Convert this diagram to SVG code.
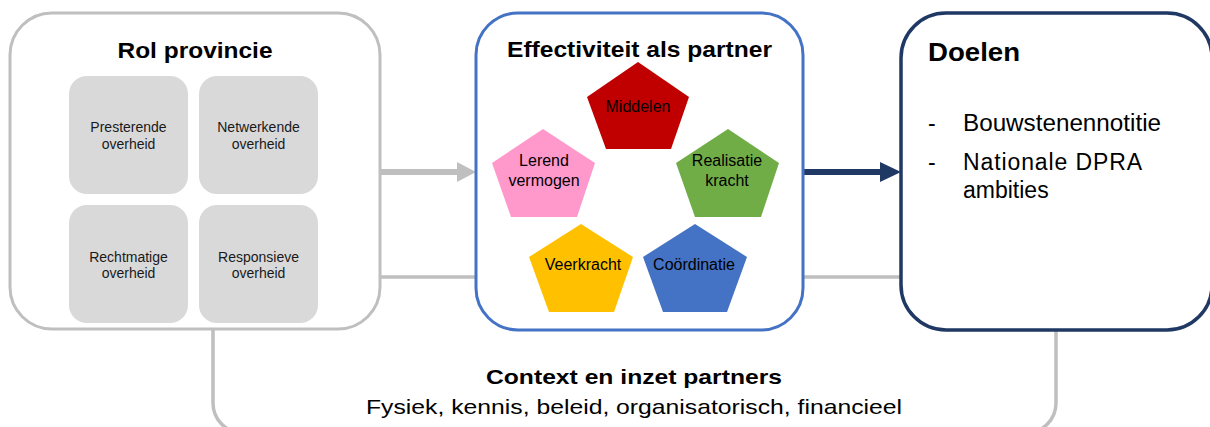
<svg xmlns="http://www.w3.org/2000/svg" width="1210" height="427" viewBox="0 0 1210 427">
<style>
  text { font-family: "Liberation Sans", Arial, sans-serif; fill: #000; }
  .title { font-weight: bold; font-size: 22px; }
  .small { font-size: 14px; text-anchor: middle; fill: #1a1a1a; }
  .pent { font-size: 16px; text-anchor: middle; }
  .bullet { font-size: 23px; }
  .gbox { fill: #d9d9d9; }
</style>
<rect x="0" y="0" width="1210" height="427" fill="#ffffff"/>

<g id="context">
  <rect x="213" y="277" width="843" height="156" rx="30" fill="none" stroke="#bfbfbf" stroke-width="3.5"/>
  <text x="634" y="384" text-anchor="middle" font-weight="bold" font-size="21" textLength="296" lengthAdjust="spacingAndGlyphs">Context en inzet partners</text>
  <text x="634" y="414" text-anchor="middle" font-size="21" textLength="536" lengthAdjust="spacingAndGlyphs">Fysiek, kennis, beleid, organisatorisch, financieel</text>
</g>

<g id="connectors">
  <line x1="380" y1="172" x2="459" y2="172" stroke="#bfbfbf" stroke-width="6"/>
  <polygon points="457,162 476,172 457,182" fill="#bfbfbf"/>
  <line x1="803" y1="172" x2="882" y2="172" stroke="#203864" stroke-width="6"/>
  <polygon points="880,162 901,172 880,182" fill="#203864"/>
</g>

<g id="rol-provincie">
  <rect x="10" y="13" width="370" height="316" rx="42" fill="#ffffff" stroke="#bfbfbf" stroke-width="3"/>
  <text class="title" x="195" y="58" text-anchor="middle" textLength="155" lengthAdjust="spacingAndGlyphs">Rol provincie</text>
  <g id="presterende">
    <rect class="gbox" x="69" y="76" width="119" height="118" rx="18"/>
    <text class="small" x="128.5" y="132">Presterende</text>
    <text class="small" x="128.5" y="149">overheid</text>
  </g>
  <g id="netwerkende">
    <rect class="gbox" x="199" y="76" width="119" height="118" rx="18"/>
    <text class="small" x="258.5" y="132">Netwerkende</text>
    <text class="small" x="258.5" y="149">overheid</text>
  </g>
  <g id="rechtmatige">
    <rect class="gbox" x="69" y="205" width="119" height="118" rx="18"/>
    <text class="small" x="128.5" y="262">Rechtmatige</text>
    <text class="small" x="128.5" y="278">overheid</text>
  </g>
  <g id="responsieve">
    <rect class="gbox" x="199" y="205" width="119" height="118" rx="18"/>
    <text class="small" x="258.5" y="262">Responsieve</text>
    <text class="small" x="258.5" y="278">overheid</text>
  </g>
</g>

<g id="effectiviteit">
  <rect x="476" y="13" width="327" height="317" rx="42" fill="#ffffff" stroke="#4472c4" stroke-width="3"/>
  <text class="title" x="507" y="57" textLength="265" lengthAdjust="spacingAndGlyphs">Effectiviteit als partner</text>
  <g id="middelen">
    <polygon points="638,62 689,97 671,149 606,149 587,97" fill="#c00000"/>
    <text class="pent" x="638" y="112">Middelen</text>
  </g>
  <g id="lerend">
    <polygon points="543,129 595,163 577,217 511,217 492,163" fill="#ff99cc"/>
    <text class="pent" x="544" y="166">Lerend</text>
    <text class="pent" x="544" y="186">vermogen</text>
  </g>
  <g id="realisatie">
    <polygon points="728,129 779,163 761,217 695,217 676,163" fill="#70ad47"/>
    <text class="pent" x="727" y="166">Realisatie</text>
    <text class="pent" x="727" y="186">kracht</text>
  </g>
  <g id="veerkracht">
    <polygon points="581,224 633,257 614,312 549,312 529,257" fill="#ffc000"/>
    <text class="pent" x="583" y="270">Veerkracht</text>
  </g>
  <g id="coordinatie">
    <polygon points="695,224 747,257 727,312 663,312 643,257" fill="#4472c4"/>
    <text class="pent" x="694" y="270">Coördinatie</text>
  </g>
</g>

<g id="doelen">
  <rect x="901" y="13" width="311" height="317" rx="45" fill="#ffffff" stroke="#203864" stroke-width="3.5"/>
  <text x="928" y="61" font-weight="bold" font-size="26" textLength="92" lengthAdjust="spacingAndGlyphs">Doelen</text>
  <text class="bullet" x="928" y="131">-</text>
  <text class="bullet" x="963" y="131" textLength="198" lengthAdjust="spacingAndGlyphs">Bouwstenennotitie</text>
  <text class="bullet" x="928" y="170">-</text>
  <text class="bullet" x="963" y="170" textLength="179" lengthAdjust="spacing">Nationale DPRA</text>
  <text class="bullet" x="963" y="198">ambities</text>
</g>
</svg>
